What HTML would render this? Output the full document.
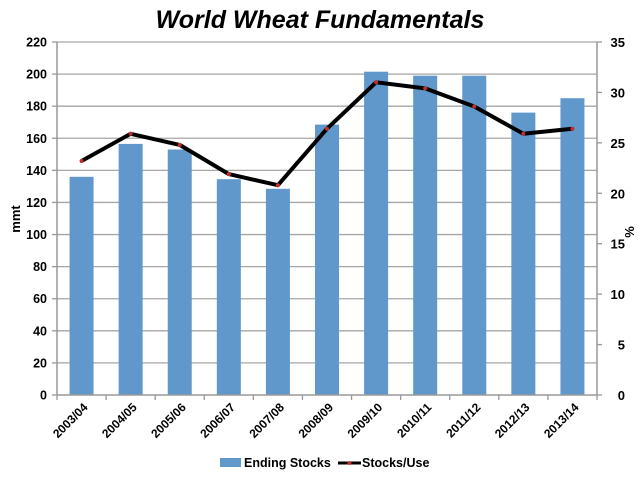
<!DOCTYPE html>
<html><head><meta charset="utf-8"><style>body{margin:0;background:#fff}svg{display:block}text{font-family:"Liberation Sans",sans-serif;font-weight:bold}</style></head><body>
<svg width="640" height="480" viewBox="0 0 640 480" xmlns="http://www.w3.org/2000/svg">
<text x="320" y="28" text-anchor="middle" font-size="25" font-style="italic">World Wheat Fundamentals</text>
<g stroke="#a6a6a6" stroke-width="1.3">
<line x1="57" x2="597" y1="362.91" y2="362.91"/><line x1="57" x2="597" y1="330.82" y2="330.82"/><line x1="57" x2="597" y1="298.73" y2="298.73"/><line x1="57" x2="597" y1="266.64" y2="266.64"/><line x1="57" x2="597" y1="234.55" y2="234.55"/><line x1="57" x2="597" y1="202.45" y2="202.45"/><line x1="57" x2="597" y1="170.36" y2="170.36"/><line x1="57" x2="597" y1="138.27" y2="138.27"/><line x1="57" x2="597" y1="106.18" y2="106.18"/><line x1="57" x2="597" y1="74.09" y2="74.09"/><line x1="57" x2="597" y1="42" y2="42"/>
</g>
<g stroke="#999" stroke-width="1.3">
<line x1="52" x2="57" y1="395" y2="395"/><line x1="52" x2="57" y1="362.91" y2="362.91"/><line x1="52" x2="57" y1="330.82" y2="330.82"/><line x1="52" x2="57" y1="298.73" y2="298.73"/><line x1="52" x2="57" y1="266.64" y2="266.64"/><line x1="52" x2="57" y1="234.55" y2="234.55"/><line x1="52" x2="57" y1="202.45" y2="202.45"/><line x1="52" x2="57" y1="170.36" y2="170.36"/><line x1="52" x2="57" y1="138.27" y2="138.27"/><line x1="52" x2="57" y1="106.18" y2="106.18"/><line x1="52" x2="57" y1="74.09" y2="74.09"/><line x1="52" x2="57" y1="42" y2="42"/>
<line x1="597" x2="602" y1="395" y2="395"/><line x1="597" x2="602" y1="344.57" y2="344.57"/><line x1="597" x2="602" y1="294.14" y2="294.14"/><line x1="597" x2="602" y1="243.71" y2="243.71"/><line x1="597" x2="602" y1="193.29" y2="193.29"/><line x1="597" x2="602" y1="142.86" y2="142.86"/><line x1="597" x2="602" y1="92.43" y2="92.43"/><line x1="597" x2="602" y1="42" y2="42"/>
<line x1="57" x2="57" y1="395" y2="400"/><line x1="106.09" x2="106.09" y1="395" y2="400"/><line x1="155.18" x2="155.18" y1="395" y2="400"/><line x1="204.27" x2="204.27" y1="395" y2="400"/><line x1="253.36" x2="253.36" y1="395" y2="400"/><line x1="302.45" x2="302.45" y1="395" y2="400"/><line x1="351.55" x2="351.55" y1="395" y2="400"/><line x1="400.64" x2="400.64" y1="395" y2="400"/><line x1="449.73" x2="449.73" y1="395" y2="400"/><line x1="498.82" x2="498.82" y1="395" y2="400"/><line x1="547.91" x2="547.91" y1="395" y2="400"/><line x1="597" x2="597" y1="395" y2="400"/>
</g>
<g font-size="12.5" text-anchor="end">
<text x="47" y="399.5">0</text><text x="47" y="367.4">20</text><text x="47" y="335.3">40</text><text x="47" y="303.2">60</text><text x="47" y="271.1">80</text><text x="47" y="239">100</text><text x="47" y="207">120</text><text x="47" y="174.9">140</text><text x="47" y="142.8">160</text><text x="47" y="110.7">180</text><text x="47" y="78.6">200</text><text x="47" y="46.5">220</text>
</g>
<g font-size="13" text-anchor="end">
<text x="625" y="400">0</text><text x="625" y="349.6">5</text><text x="625" y="299.1">10</text><text x="625" y="248.7">15</text><text x="625" y="198.3">20</text><text x="625" y="147.9">25</text><text x="625" y="97.4">30</text><text x="625" y="47">35</text>
</g>
<g fill="#6198cb">
<rect x="69.55" y="176.8" width="24" height="218.2"/><rect x="118.64" y="143.9" width="24" height="251.1"/><rect x="167.73" y="149.5" width="24" height="245.5"/><rect x="216.82" y="179.2" width="24" height="215.8"/><rect x="265.91" y="188.8" width="24" height="206.2"/><rect x="315" y="124.6" width="24" height="270.4"/><rect x="364.09" y="71.7" width="24" height="323.3"/><rect x="413.18" y="75.7" width="24" height="319.3"/><rect x="462.27" y="75.7" width="24" height="319.3"/><rect x="511.36" y="112.6" width="24" height="282.4"/><rect x="560.45" y="98.2" width="24" height="296.8"/>
</g>
<g stroke="#999" stroke-width="1.5">
<line x1="57" x2="57" y1="42" y2="395"/><line x1="597" x2="597" y1="42" y2="395"/><line x1="57" x2="597" y1="395" y2="395"/>
</g>
<polyline points="81.55,161 130.64,133.8 179.73,144.9 228.82,174.1 277.91,185.2 327,128.7 376.09,82.3 425.18,88.4 474.27,106.5 523.36,133.8 572.45,128.7" fill="none" stroke="#000" stroke-width="4" stroke-linejoin="round"/>
<g fill="#c0302a">
<circle cx="81.55" cy="161" r="2"/><circle cx="130.64" cy="133.8" r="2"/><circle cx="179.73" cy="144.9" r="2"/><circle cx="228.82" cy="174.1" r="2"/><circle cx="277.91" cy="185.2" r="2"/><circle cx="327" cy="128.7" r="2"/><circle cx="376.09" cy="82.3" r="2"/><circle cx="425.18" cy="88.4" r="2"/><circle cx="474.27" cy="106.5" r="2"/><circle cx="523.36" cy="133.8" r="2"/><circle cx="572.45" cy="128.7" r="2"/>
</g>
<g font-size="12" text-anchor="end">
<text transform="translate(88.5,408) rotate(-45)">2003/04</text>
<text transform="translate(137.6,408) rotate(-45)">2004/05</text>
<text transform="translate(186.7,408) rotate(-45)">2005/06</text>
<text transform="translate(235.8,408) rotate(-45)">2006/07</text>
<text transform="translate(284.9,408) rotate(-45)">2007/08</text>
<text transform="translate(334,408) rotate(-45)">2008/09</text>
<text transform="translate(383.1,408) rotate(-45)">2009/10</text>
<text transform="translate(432.2,408) rotate(-45)">2010/11</text>
<text transform="translate(481.3,408) rotate(-45)">2011/12</text>
<text transform="translate(530.4,408) rotate(-45)">2012/13</text>
<text transform="translate(579.5,408) rotate(-45)">2013/14</text>
</g>
<text transform="translate(20,219) rotate(-90)" text-anchor="middle" font-size="13">mmt</text>
<text transform="translate(634,232) rotate(-90)" text-anchor="middle" font-size="13">%</text>
<rect x="220" y="458" width="21" height="9" fill="#6198cb"/><text x="244" y="467" font-size="12.5">Ending Stocks</text>
<line x1="338" x2="361" y1="463" y2="463" stroke="#000" stroke-width="3"/><circle cx="349.5" cy="463" r="2" fill="#c0302a"/><text x="362" y="467" font-size="12.5">Stocks/Use</text>
</svg>
</body></html>
